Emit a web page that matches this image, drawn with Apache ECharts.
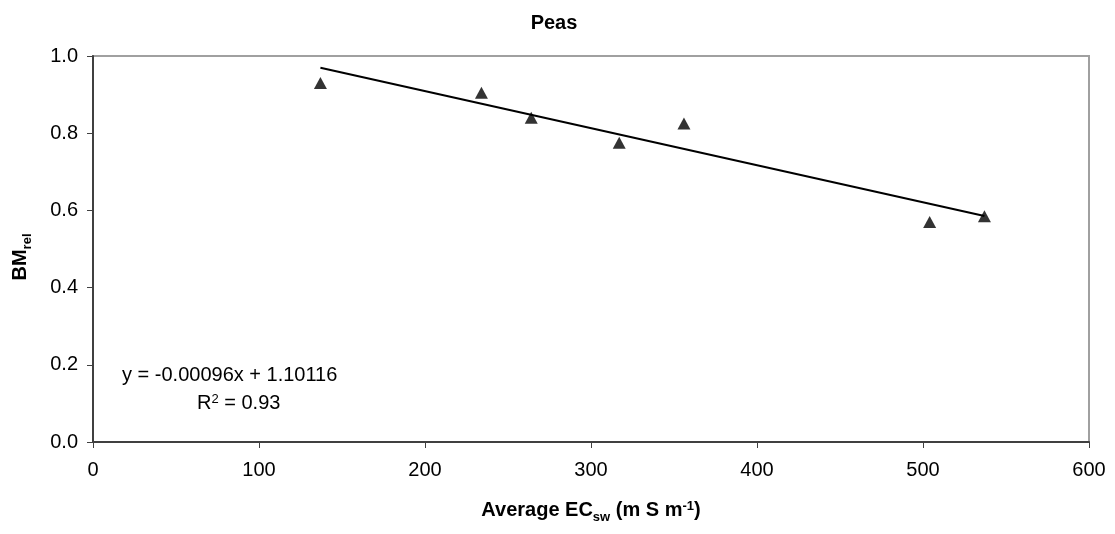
<!DOCTYPE html>
<html>
<head>
<meta charset="utf-8">
<script src="https://cdn.jsdelivr.net/npm/echarts@6/dist/echarts.min.js"></script>
<style>
  html, body { margin: 0; padding: 0; background: #fff; }
  #chart { width: 1115px; height: 534px; }
</style>
</head>
<body>
<div id="chart"></div>
<script>
// Measured points: average soil-water EC vs relative biomass
const ecValues = [137, 234, 264, 317, 356, 504, 537];
const bmValues = [0.93, 0.905, 0.84, 0.775, 0.825, 0.57, 0.585];

// Linear fit reported for the data
const slope = -0.00096;
const intercept = 1.10116;
const rSquared = 0.93;
const fitRange = [137, 537];

const xTicks = [0, 100, 200, 300, 400, 500, 600];
const yTicks = [0.0, 0.2, 0.4, 0.6, 0.8, 1.0];

const points = ecValues.map((x, i) => [x, bmValues[i]]);
const fitLine = fitRange.map(x => [x, slope * x + intercept]);

const font = '"Liberation Sans", Arial, sans-serif';
const chart = echarts.init(document.getElementById('chart'), null, { renderer: 'canvas' });

const boldText = { fontFamily: font, fontSize: 20, fontWeight: 'bold', color: '#000' };
const smallBold = { fontFamily: font, fontSize: 13, fontWeight: 'bold', color: '#000' };

chart.setOption({
  backgroundColor: '#ffffff',
  animation: false,
  title: {
    text: 'Peas',
    left: 549,
    textAlign: 'center',
    top: 8,
    textStyle: { fontFamily: font, fontSize: 20, fontWeight: 'bold', color: '#000' }
  },
  grid: {
    left: 93, right: 26, top: 56, bottom: 92,
    show: true,
    borderColor: '#a0a0a0',
    borderWidth: 2,
    backgroundColor: '#ffffff'
  },
  xAxis: {
    type: 'value',
    min: xTicks[0],
    max: xTicks[xTicks.length - 1],
    interval: 100,
    splitLine: { show: false },
    axisLine: { show: true, onZero: false, lineStyle: { color: '#404040', width: 2 } },
    axisTick: { show: true, inside: false, length: 6, lineStyle: { color: '#404040', width: 1 } },
    axisLabel: { fontFamily: font, fontSize: 20, color: '#000', margin: 18 },
    name: '{b|Average EC}{sub|sw}{b| (m S m}{sup|-1}{b|)}',
    nameLocation: 'middle',
    nameGap: 58,
    nameTextStyle: {
      rich: {
        b: boldText,
        sub: Object.assign({ verticalAlign: 'bottom', padding: [0, 0, -4, 0] }, smallBold),
        sup: Object.assign({ verticalAlign: 'top' }, smallBold)
      }
    }
  },
  yAxis: {
    type: 'value',
    min: yTicks[0],
    max: yTicks[yTicks.length - 1],
    interval: 0.2,
    splitLine: { show: false },
    axisLine: { show: true, onZero: false, lineStyle: { color: '#404040', width: 2 } },
    axisTick: { show: true, inside: false, length: 6, lineStyle: { color: '#404040', width: 1 } },
    axisLabel: {
      fontFamily: font, fontSize: 20, color: '#000', margin: 15,
      formatter: v => v.toFixed(1)
    }
  },
  series: [
    {
      type: 'line',
      data: fitLine,
      symbol: 'none',
      lineStyle: { color: '#000', width: 2 },
      z: 2
    },
    {
      type: 'scatter',
      data: points,
      symbol: 'triangle',
      symbolSize: [13, 12],
      itemStyle: { color: '#000' },
      z: 3
    }
  ],
  graphic: [
    {
      // rotated y-axis title
      type: 'text',
      x: 20,
      y: 257,
      rotation: Math.PI / 2,
      style: {
        text: '{b|BM}{s|rel}',
        align: 'center',
        verticalAlign: 'middle',
        rich: {
          b: { fontFamily: font, fontSize: 20, fontWeight: 'bold', fill: '#000' },
          s: { fontFamily: font, fontSize: 13, fontWeight: 'bold', fill: '#000', verticalAlign: 'bottom', padding: [0, 0, -4, 0] }
        }
      }
    },
    {
      type: 'text',
      left: 122,
      top: 365,
      style: {
        text: 'y = ' + slope.toFixed(5) + 'x + ' + intercept.toFixed(5),
        fontFamily: font, fontSize: 20, fill: '#000'
      }
    },
    {
      type: 'text',
      left: 197,
      top: 393,
      style: {
        text: '{t|R}{s|2}{t| = ' + rSquared.toFixed(2) + '}',
        rich: {
          t: { fontFamily: font, fontSize: 20, fill: '#000' },
          s: { fontFamily: font, fontSize: 13, fill: '#000', verticalAlign: 'top' }
        }
      }
    }
  ]
});
</script>
</body>
</html>
